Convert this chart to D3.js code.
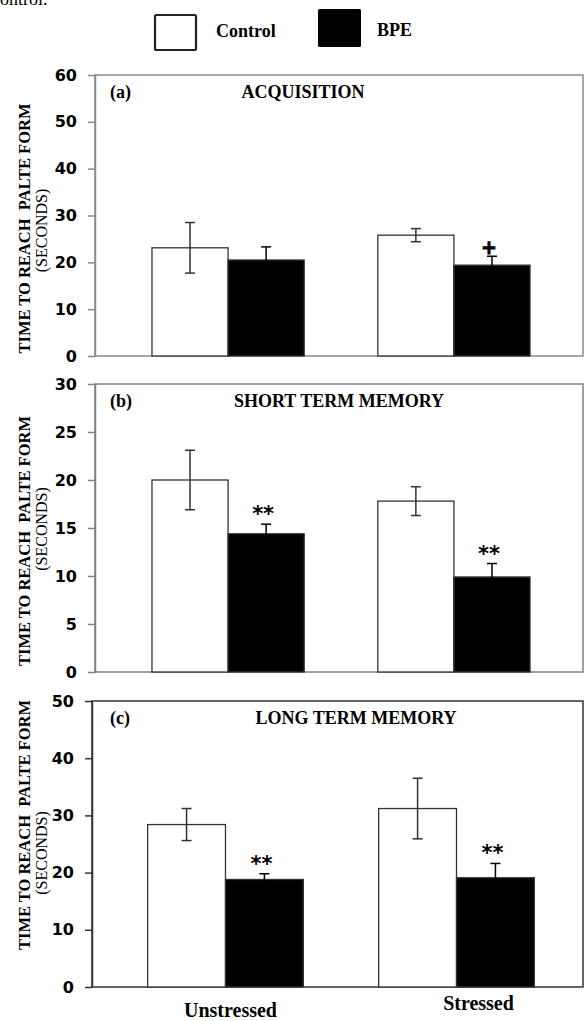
<!DOCTYPE html>
<html>
<head>
<meta charset="utf-8">
<script src="https://cdn.jsdelivr.net/npm/d3@7"></script>
<style>
  body { margin: 0; background: #fff; }
  svg { display: block; }
</style>
</head>
<body>
<div id="chart"></div>
<script>
// data
var groups = ["Unstressed", "Stressed"];
var series = ["Control", "BPE"];

var acqControl = [23.1, 25.8];
var acqControlErr = [5.4, 1.4];
var acqBPE = [20.5, 19.4];
var acqBPEErr = [2.8, 1.9];
var acqMarks = ["", "+"];

var stmControl = [20.0, 17.8];
var stmControlErr = [3.1, 1.5];
var stmBPE = [14.4, 9.9];
var stmBPEErr = [1.0, 1.4];
var stmMarks = ["**", "**"];

var ltmControl = [28.4, 31.2];
var ltmControlErr = [2.8, 5.3];
var ltmBPE = [18.8, 19.1];
var ltmBPEErr = [1.0, 2.5];
var ltmMarks = ["**", "**"];

var acqTicks = [0, 10, 20, 30, 40, 50, 60];
var stmTicks = [0, 5, 10, 15, 20, 25, 30];
var ltmTicks = [0, 10, 20, 30, 40, 50];

var yTitle1 = "TIME TO REACH  PALTE FORM";
var yTitle2 = "(SECONDS)";

var W = 585, H = 1021;
var serif = "'Liberation Serif', 'Times New Roman', serif";
var sans = "'DejaVu Sans', Verdana, sans-serif";

var svg = d3.select("#chart").append("svg")
    .attr("width", W)
    .attr("height", H);

// caption fragment cut at top
svg.append("text")
    .attr("x", -8).attr("y", 5)
    .attr("font-family", serif).attr("font-size", 18)
    .text("control.");

// legend
svg.append("rect").attr("x", 155).attr("y", 15).attr("width", 41).attr("height", 35)
    .attr("fill", "#fff").attr("stroke", "#222").attr("stroke-width", 2.2).attr("rx", 1.5);
svg.append("text").attr("x", 216).attr("y", 37)
    .attr("font-family", serif).attr("font-weight", "bold").attr("font-size", 18)
    .text(series[0]);
svg.append("rect").attr("x", 318).attr("y", 9).attr("width", 43).attr("height", 38)
    .attr("fill", "#000").attr("rx", 1.5);
svg.append("text").attr("x", 377).attr("y", 36)
    .attr("font-family", serif).attr("font-weight", "bold").attr("font-size", 18)
    .text(series[1]);

var panels = [
    { tag: "(a)", title: "ACQUISITION", titleX: 303, top: 75, bottom: 356, axisX: 95,
      range: [98, 584], po: 0.239, max: 60, ticks: acqTicks, border: "#8a8a8a",
      t1: 13, t2: 15,
      control: acqControl, controlErr: acqControlErr, bpe: acqBPE, bpeErr: acqBPEErr, marks: acqMarks },
    { tag: "(b)", title: "SHORT TERM MEMORY", titleX: 339, top: 384, bottom: 672, axisX: 95,
      range: [98, 584], po: 0.239, max: 30, ticks: stmTicks, border: "#808080",
      t1: 13, t2: 1,
      control: stmControl, controlErr: stmControlErr, bpe: stmBPE, bpeErr: stmBPEErr, marks: stmMarks },
    { tag: "(c)", title: "LONG TERM MEMORY", titleX: 356, top: 701, bottom: 987, axisX: 92,
      range: [96, 586], po: 0.2235, max: 50, ticks: ltmTicks, border: "#333",
      t1: -19, t2: 9,
      control: ltmControl, controlErr: ltmControlErr, bpe: ltmBPE, bpeErr: ltmBPEErr, marks: ltmMarks }
];

panels.forEach(function(p, pi) {
    var g = svg.append("g");

    var y = d3.scaleLinear().domain([0, p.max]).range([p.bottom, p.top]);
    var x0 = d3.scaleBand().domain(groups).range(p.range).paddingInner(0.326).paddingOuter(p.po);
    var x1 = d3.scaleBand().domain(series).range([0, x0.bandwidth()]);

    // frame
    g.append("rect")
        .attr("x", p.axisX).attr("y", p.top)
        .attr("width", 583 - p.axisX).attr("height", p.bottom - p.top)
        .attr("fill", "none").attr("stroke", p.border).attr("stroke-width", 1.5);

    var yAxis = d3.axisLeft(y).tickValues(p.ticks).tickSize(7).tickSizeOuter(0).tickPadding(11);
    var ax = g.append("g")
        .attr("transform", "translate(" + p.axisX + ",0)")
        .call(yAxis);
    ax.select(".domain").attr("stroke", p.border).attr("stroke-width", 1.5);
    ax.selectAll(".tick line").attr("stroke", p.border).attr("stroke-width", 1.5);
    ax.selectAll(".tick text")
        .attr("font-family", sans).attr("font-weight", "bold").attr("font-size", 16)
        .attr("fill", "#000");

    // y title
    var cy = (p.top + p.bottom) / 2;
    g.append("text")
        .attr("transform", "translate(30," + (cy + p.t1) + ") rotate(-90)")
        .attr("text-anchor", "middle")
        .attr("font-family", serif).attr("font-weight", "bold").attr("font-size", 16)
        .attr("textLength", 250).attr("lengthAdjust", "spacingAndGlyphs")
        .attr("xml:space", "preserve")
        .text(yTitle1);
    g.append("text")
        .attr("transform", "translate(47," + (cy + p.t2) + ") rotate(-90)")
        .attr("text-anchor", "middle")
        .attr("font-family", serif).attr("font-size", 16)
        .text(yTitle2);

    // panel labels
    g.append("text").attr("x", 110).attr("y", p.top + 23)
        .attr("font-family", serif).attr("font-weight", "bold").attr("font-size", 18)
        .text(p.tag);
    g.append("text").attr("x", p.titleX).attr("y", p.top + 23)
        .attr("text-anchor", "middle")
        .attr("font-family", serif).attr("font-weight", "bold").attr("font-size", 18)
        .text(p.title);

    var rows = [];
    groups.forEach(function(gr, i) {
        rows.push({ group: gr, s: "Control", v: p.control[i], e: p.controlErr[i], mark: "" });
        rows.push({ group: gr, s: "BPE", v: p.bpe[i], e: p.bpeErr[i], mark: p.marks[i] });
    });

    g.selectAll(".bar")
        .data(rows)
        .enter()
        .append("rect")
        .attr("class", "bar")
        .attr("x", function(d) { return x0(d.group) + x1(d.s); })
        .attr("y", function(d) { return y(d.v); })
        .attr("width", x1.bandwidth())
        .attr("height", function(d) { return y(0) - y(d.v); })
        .attr("fill", function(d) { return d.s === "BPE" ? "#000" : "#fff"; })
        .attr("stroke", "#333")
        .attr("stroke-width", 1.3);

    var cx = function(d) { return x0(d.group) + x1(d.s) + x1.bandwidth() / 2; };

    // error bars; the lower half of a black bar's whisker disappears in the fill
    var eb = g.selectAll(".err")
        .data(rows)
        .enter()
        .append("g")
        .attr("class", "err")
        .attr("stroke", function(d) { return d.s === "BPE" ? "#000" : "#333"; })
        .attr("stroke-width", 1.5);
    eb.append("line")
        .attr("x1", cx).attr("x2", cx)
        .attr("y1", function(d) { return y(d.v + d.e); })
        .attr("y2", function(d) { return y(d.v - d.e); });
    eb.append("line")
        .attr("x1", function(d) { return cx(d) - 5; })
        .attr("x2", function(d) { return cx(d) + 5; })
        .attr("y1", function(d) { return y(d.v + d.e); })
        .attr("y2", function(d) { return y(d.v + d.e); });
    eb.append("line")
        .attr("x1", function(d) { return cx(d) - 5; })
        .attr("x2", function(d) { return cx(d) + 5; })
        .attr("y1", function(d) { return y(d.v - d.e); })
        .attr("y2", function(d) { return y(d.v - d.e); });

    g.selectAll(".mark")
        .data(rows.filter(function(d) { return d.mark; }))
        .enter()
        .append("text")
        .attr("class", "mark")
        .attr("x", function(d) { return cx(d) - 3; })
        .attr("y", function(d) { return y(d.v + d.e) + (d.mark === "+" ? -2 : -3); })
        .attr("text-anchor", "middle")
        .attr("font-family", sans).attr("font-weight", "bold")
        .attr("font-size", function(d) { return d.mark === "+" ? 19 : 21; })
        .attr("stroke", function(d) { return d.mark === "+" ? "#000" : "none"; })
        .attr("stroke-width", 0.8)
        .text(function(d) { return d.mark; });

    // category labels under the last panel
    if (pi === panels.length - 1) {
        g.selectAll(".cat")
            .data(groups)
            .enter()
            .append("text")
            .attr("class", "cat")
            .attr("x", function(d, i) { return x0(d) + x0.bandwidth() / 2 + (i === 0 ? 5 : 22); })
            .attr("y", function(d, i) { return i === 0 ? 1017 : 1010; })
            .attr("text-anchor", "middle")
            .attr("font-family", serif).attr("font-weight", "bold").attr("font-size", 20)
            .text(function(d) { return d; });
    }
});
</script>
</body>
</html>
